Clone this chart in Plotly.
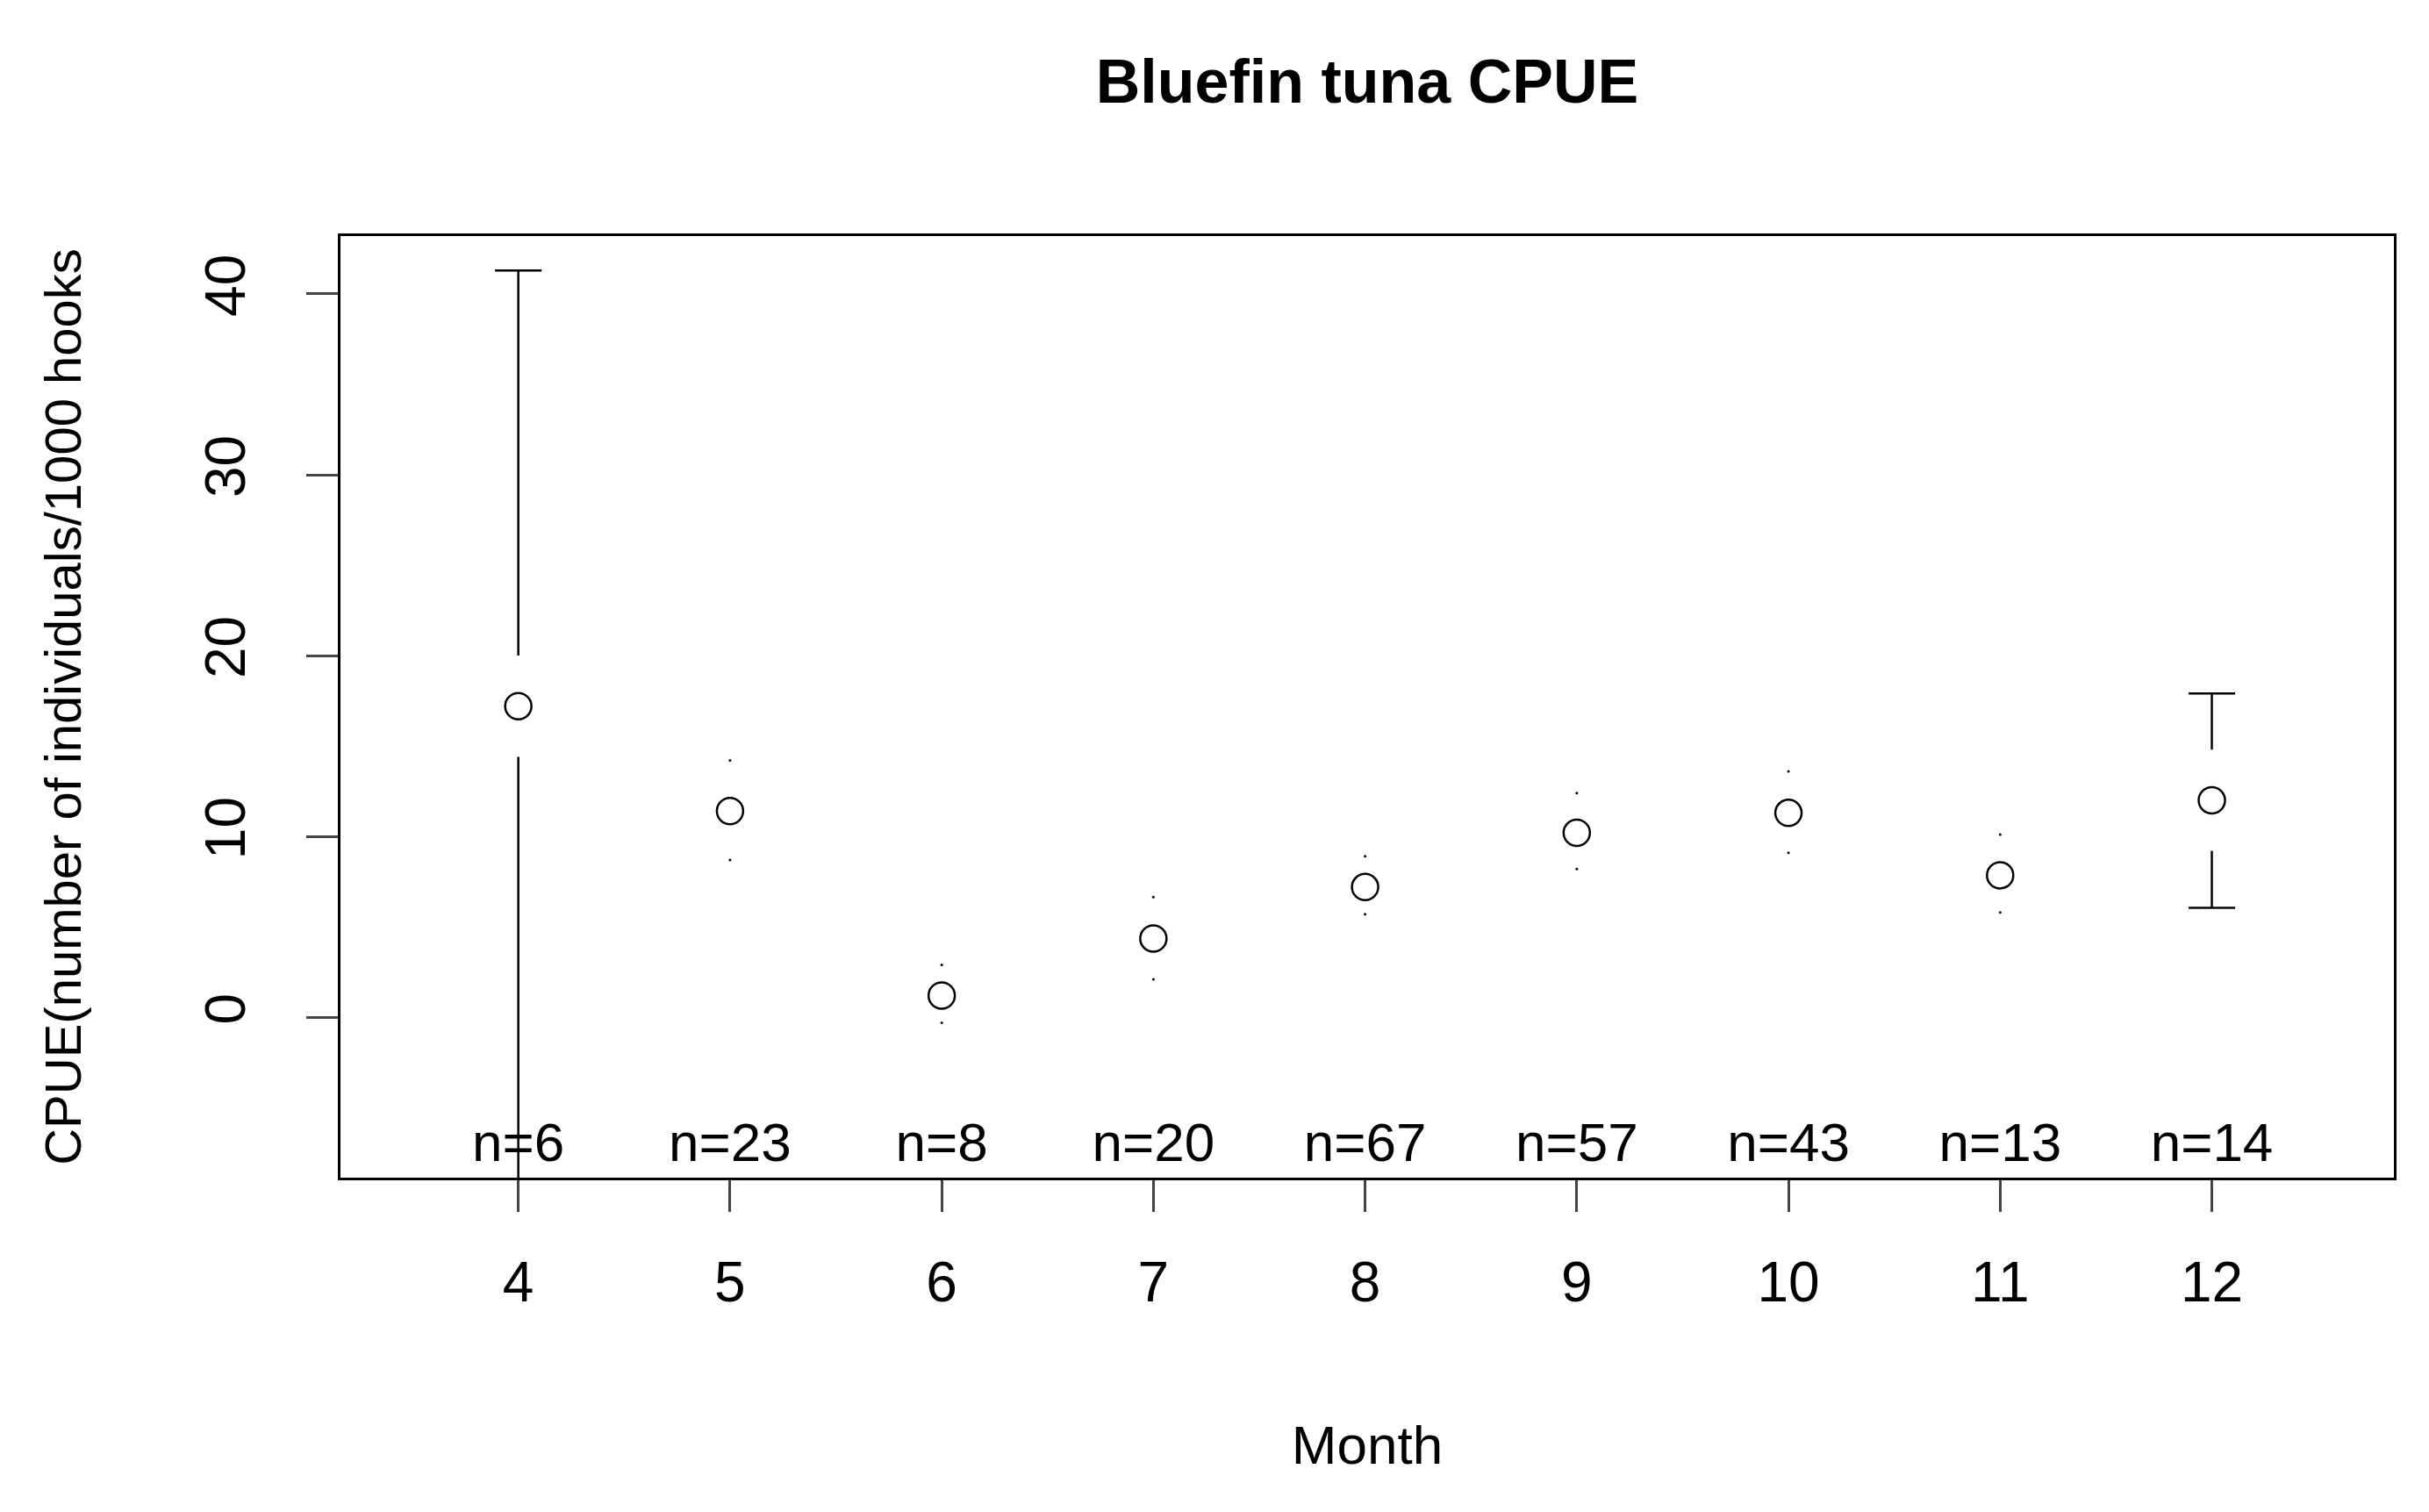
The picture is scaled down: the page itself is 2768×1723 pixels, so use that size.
import plotly.graph_objects as go

months = [4, 5, 6, 7, 8, 9, 10, 11, 12]
means = [17.2, 11.4, 1.2, 4.35, 7.2, 10.2, 11.3, 7.85, 12.0]
upper = [41.3, 14.2, 2.9, 6.65, 8.9, 12.4, 13.6, 10.1, 17.9]
lower = [-25.0, 8.7, -0.3, 2.1, 5.7, 8.2, 9.1, 5.8, 6.05]
nlabels = ["n=6", "n=23", "n=8", "n=20", "n=67", "n=57", "n=43", "n=13", "n=14"]
xticks = [4, 5, 6, 7, 8, 9, 10, 11, 12]
yticks = [0, 10, 20, 30, 40]

gap = 2.8
capw = 0.11
lx, ly, dx, dy = [], [], [], []
for m, mu, u, l in zip(months, means, upper, lower):
    for end, sgn in ((u, 1), (l, -1)):
        start = mu + sgn * gap
        if (end - start) * sgn > 0:
            lx += [m, m, None]; ly += [start, end, None]
            lx += [m - capw, m + capw, None]; ly += [end, end, None]
        else:
            dx.append(m); dy.append(end)

fig = go.Figure()
fig.add_trace(go.Scatter(x=lx, y=ly, mode="lines", line=dict(color="black", width=2.5),
                         hoverinfo="skip", showlegend=False))
fig.add_trace(go.Scatter(x=dx, y=dy, mode="markers", marker=dict(color="black", size=3),
                         showlegend=False))
fig.add_trace(go.Scatter(x=months, y=means, mode="markers",
                         marker=dict(symbol="circle-open", size=30, color="black", line=dict(width=2.5)),
                         showlegend=False))
fig.add_trace(go.Scatter(x=months, y=[-7.2] * len(months), mode="text", text=nlabels,
                         textfont=dict(size=62, color="black", family="Liberation Sans"),
                         showlegend=False))

fig.update_layout(
    width=2768, height=1723, plot_bgcolor="white", paper_bgcolor="white",
    margin=dict(l=380, r=48, t=261, b=389),
    font=dict(family="Liberation Sans", size=64, color="black"),
    title=dict(text="<b>Bluefin tuna CPUE</b>", x=0.5, xref="paper", y=0.965, yanchor="top",
               font=dict(size=70)),
)
fig.update_xaxes(range=[3.16, 12.86], tickvals=xticks, ticks="outside", ticklen=36, tickwidth=2.5,
                 ticklabelstandoff=25,
                 showgrid=False, zeroline=False, showline=True, mirror=True, linecolor="black",
                 linewidth=2.5, title=dict(text="Month", standoff=130, font=dict(size=62)))
fig.update_yaxes(range=[-8.87, 43.2], tickvals=yticks, ticks="outside", ticklen=36, tickwidth=2.5,
                 ticklabelstandoff=45,
                 tickangle=-90, showgrid=False, zeroline=False, showline=True, mirror=True,
                 linecolor="black", linewidth=2.5,
                 title=dict(text="CPUE(number of individuals/1000 hooks", standoff=110,
                            font=dict(size=58)))
fig.write_html("out.html")
